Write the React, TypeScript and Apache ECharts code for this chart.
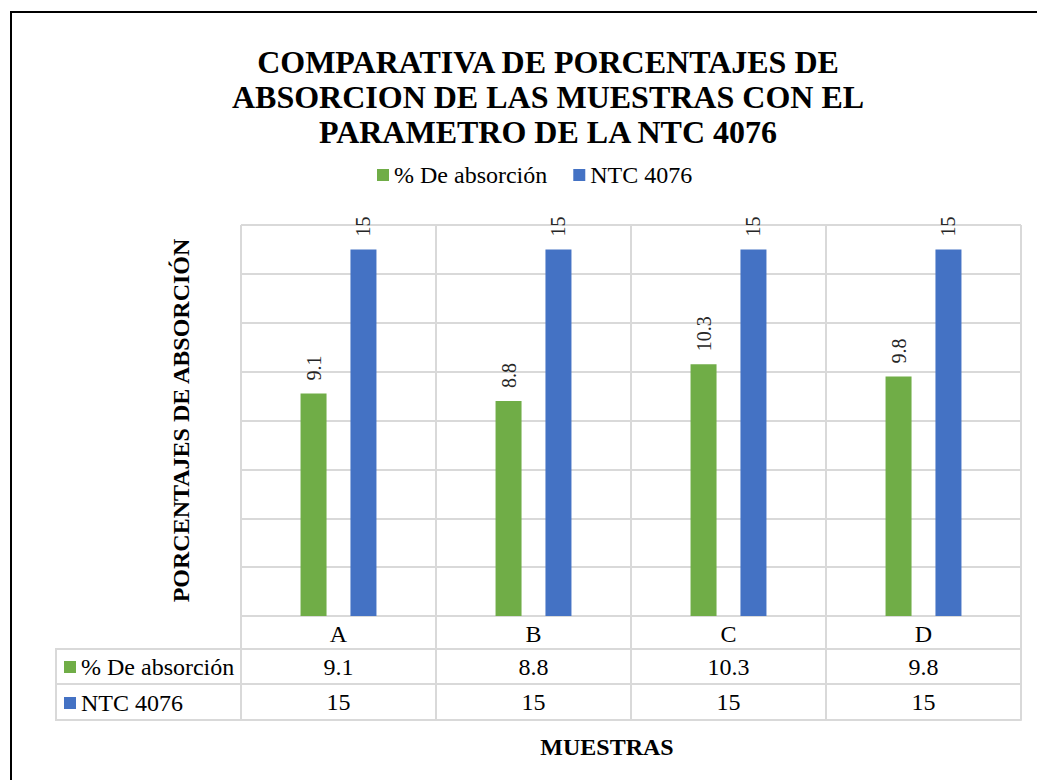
import React, { useEffect, useRef } from "react";
import * as echarts from "echarts";

const titleLines = [
  "COMPARATIVA DE PORCENTAJES DE",
  "ABSORCION DE LAS MUESTRAS CON EL",
  "PARAMETRO DE LA NTC 4076",
];
const categories = ["A", "B", "C", "D"];
const seriesNames = ["% De absorción", "NTC 4076"];
const absorcion = [9.1, 8.8, 10.3, 9.8];
const ntc4076 = [15, 15, 15, 15];
const yAxisTitle = "PORCENTAJES DE ABSORCIÓN";
const xAxisTitle = "MUESTRAS";
const yMin = 0;
const yMax = 16;
const yInterval = 2;

const GREEN = "#70AD47";
const BLUE = "#4472C4";
const GREY = "#D9D9D9";
const SERIF = "Liberation Serif";
const FS = 24;

export default function App() {
  const ref = useRef<HTMLDivElement>(null);

  useEffect(() => {
    if (!ref.current) return;
    const chart = echarts.init(ref.current, null, { renderer: "svg" });

    const tableAxis = (offset: number, values: number[] | null) => ({
      type: "category",
      data: categories,
      position: "bottom",
      gridIndex: 0,
      offset,
      axisLine: { show: true, lineStyle: { color: GREY, width: 2 } },
      axisTick: { show: false },
      splitLine: { show: false },
      axisLabel: {
        show: values !== null,
        interval: 0,
        formatter: (_v: string, i: number) => (values ? String(values[i]) : ""),
        fontFamily: SERIF,
        fontSize: FS,
        lineHeight: FS,
        color: "#000",
        margin: 6,
      },
    });

    const barLabel = {
      show: true,
      position: "top",
      rotate: 90,
      align: "left",
      verticalAlign: "middle",
      distance: 13,
      fontFamily: SERIF,
      fontSize: 20,
      color: "#262626",
    };

    chart.setOption({
      animation: false,
      backgroundColor: "#fff",
      textStyle: { fontFamily: SERIF },
      legend: {
        left: 377,
        top: 163,
        padding: 0,
        itemWidth: 12,
        itemHeight: 12,
        itemGap: 26,
        icon: "rect",
        data: seriesNames,
        textStyle: { fontFamily: SERIF, fontSize: FS, color: "#000" },
      },
      grid: { left: 241, right: 16, top: 225, bottom: 164 },
      xAxis: [
        {
          type: "category",
          data: categories,
          position: "bottom",
          axisLine: { show: true, lineStyle: { color: GREY, width: 2 } },
          axisTick: {
            show: true,
            interval: 0,
            length: 104,
            lineStyle: { color: GREY, width: 2 },
          },
          splitLine: { show: true, interval: 0, lineStyle: { color: GREY, width: 2 } },
          axisLabel: {
            interval: 0,
            fontFamily: SERIF,
            fontSize: FS,
            lineHeight: FS,
            color: "#000",
            margin: 6,
          },
        },
        tableAxis(33, absorcion),
        tableAxis(68, ntc4076),
        tableAxis(104, null),
      ],
      yAxis: {
        type: "value",
        min: yMin,
        max: yMax,
        interval: yInterval,
        axisLabel: { show: false },
        axisLine: { show: false },
        axisTick: { show: false },
        splitLine: { show: true, lineStyle: { color: GREY, width: 2 } },
        name: yAxisTitle,
        nameLocation: "middle",
        nameRotate: 90,
        nameGap: 48,
        nameTextStyle: {
          fontFamily: SERIF,
          fontSize: 24,
          fontWeight: "bold",
          color: "#000",
        },
      },
      series: [
        {
          name: seriesNames[0],
          type: "bar",
          data: absorcion,
          xAxisIndex: 0,
          barWidth: 26,
          barGap: "92%",
          itemStyle: { color: GREEN },
          label: barLabel,
        },
        {
          name: seriesNames[1],
          type: "bar",
          data: ntc4076,
          xAxisIndex: 0,
          barWidth: 26,
          itemStyle: { color: BLUE },
          label: barLabel,
        },
      ],
      graphic: [
        {
          type: "rect",
          shape: { x: 11, y: 12, width: 1100, height: 900 },
          style: { fill: "none", stroke: "#000", lineWidth: 2 },
          silent: true,
        },
        {
          type: "text",
          x: 548,
          y: 97,
          style: {
            text: titleLines.join("\n"),
            textAlign: "center",
            textVerticalAlign: "middle",
            fontFamily: SERIF,
            fontSize: 32,
            fontWeight: "bold",
            lineHeight: 35,
            fill: "#000",
          },
        },
        {
          type: "text",
          x: 607,
          y: 747,
          style: {
            text: xAxisTitle,
            textAlign: "center",
            textVerticalAlign: "middle",
            fontFamily: SERIF,
            fontSize: 24,
            fontWeight: "bold",
            fill: "#000",
          },
        },
        // left header column of the data table
        { type: "line", shape: { x1: 56, y1: 649, x2: 241, y2: 649 }, style: { stroke: GREY, lineWidth: 2 } },
        { type: "line", shape: { x1: 56, y1: 684, x2: 241, y2: 684 }, style: { stroke: GREY, lineWidth: 2 } },
        { type: "line", shape: { x1: 56, y1: 720, x2: 241, y2: 720 }, style: { stroke: GREY, lineWidth: 2 } },
        { type: "line", shape: { x1: 56, y1: 648, x2: 56, y2: 721 }, style: { stroke: GREY, lineWidth: 2 } },
        { type: "rect", shape: { x: 64, y: 661, width: 12, height: 12 }, style: { fill: GREEN } },
        { type: "rect", shape: { x: 64, y: 697, width: 12, height: 12 }, style: { fill: BLUE } },
        {
          type: "text",
          x: 81,
          y: 667,
          style: {
            text: seriesNames[0],
            textVerticalAlign: "middle",
            fontFamily: SERIF,
            fontSize: FS,
            fill: "#000",
          },
        },
        {
          type: "text",
          x: 81,
          y: 703,
          style: {
            text: seriesNames[1],
            textVerticalAlign: "middle",
            fontFamily: SERIF,
            fontSize: FS,
            fill: "#000",
          },
        },
      ],
    });

    return () => chart.dispose();
  }, []);

  return (
    <div
      ref={ref}
      style={{ position: "absolute", left: 0, top: 0, width: 1037, height: 780 }}
    />
  );
}
